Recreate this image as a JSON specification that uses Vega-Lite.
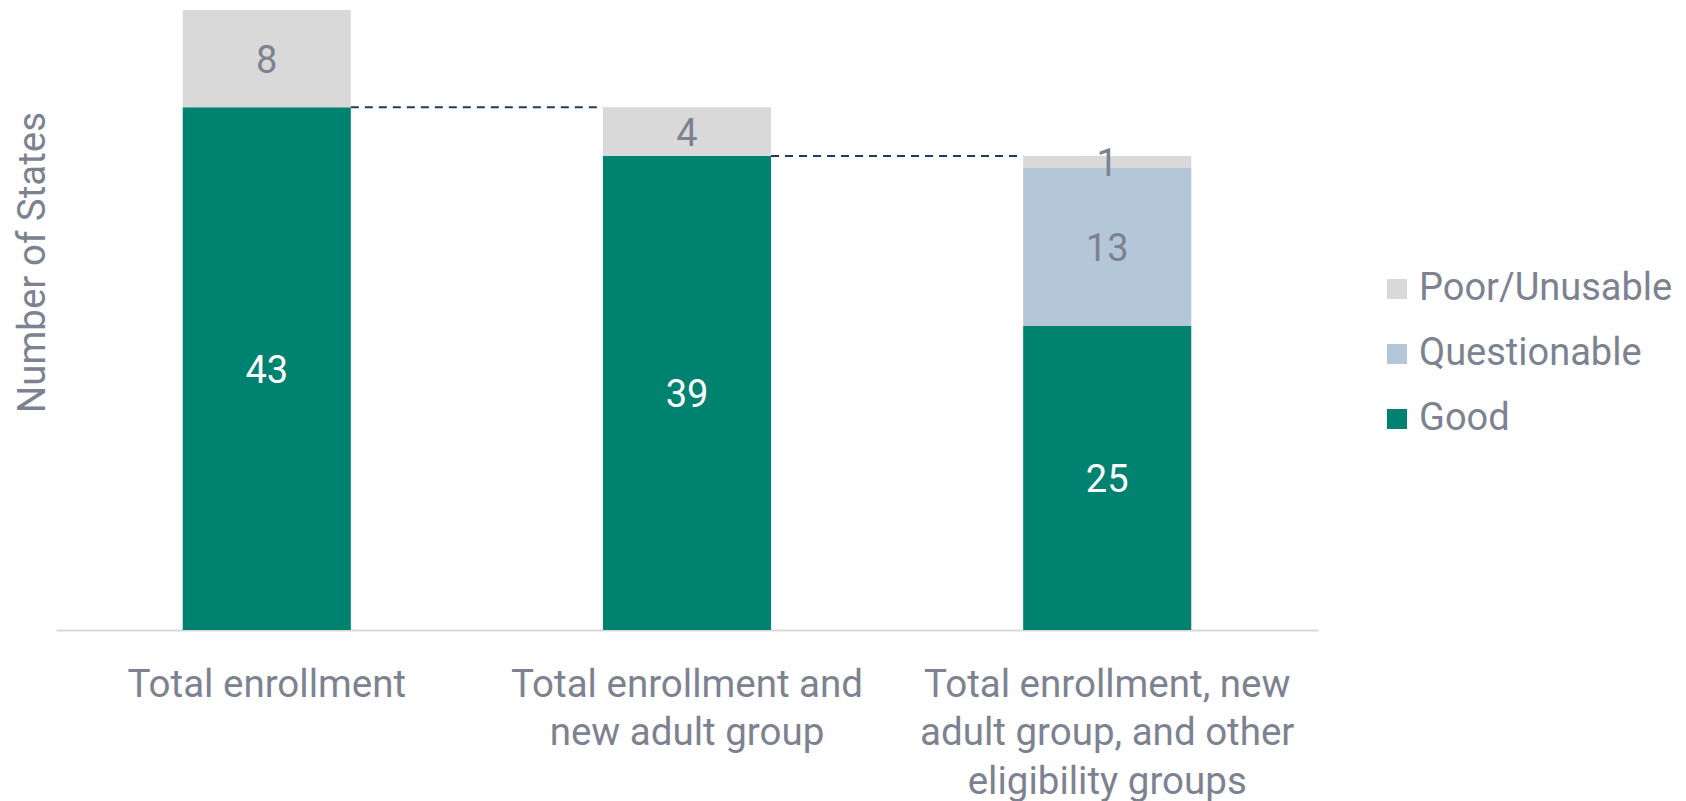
{
  "$schema": "https://vega.github.io/schema/vega-lite/v6.json",
  "autosize": {"type": "none"},
  "width": 1262,
  "height": 620,
  "padding": {"left": 56, "top": 10, "right": 368, "bottom": 171},
  "background": "white",
  "config": {
    "font": "Roboto",
    "view": {"stroke": null}
  },
  "datasets": {
    "bars": [
      {"group": "Total enrollment", "status": "Good", "value": 43, "rank": 1},
      {"group": "Total enrollment", "status": "Poor/Unusable", "value": 8, "rank": 3},
      {"group": "Total enrollment and new adult group", "status": "Good", "value": 39, "rank": 1},
      {"group": "Total enrollment and new adult group", "status": "Poor/Unusable", "value": 4, "rank": 3},
      {"group": "Total enrollment, new adult group, and other eligibility groups", "status": "Good", "value": 25, "rank": 1},
      {"group": "Total enrollment, new adult group, and other eligibility groups", "status": "Questionable", "value": 13, "rank": 2},
      {"group": "Total enrollment, new adult group, and other eligibility groups", "status": "Poor/Unusable", "value": 1, "rank": 3}
    ],
    "links": [
      {"from": "Total enrollment", "to": "Total enrollment and new adult group", "level": 43},
      {"from": "Total enrollment and new adult group", "to": "Total enrollment, new adult group, and other eligibility groups", "level": 39}
    ]
  },
  "layer": [
    {
      "data": {"name": "bars"},
      "mark": {"type": "bar"},
      "encoding": {
        "x": {
          "field": "group", "type": "nominal", "sort": null,
          "scale": {"paddingInner": 0.6, "paddingOuter": 0.3016},
          "axis": {
            "title": null,
            "labelAngle": 0,
            "labelFontSize": 38.5,
            "labelColor": "#7d8291",
            "labelLineHeight": 48.5,
            "labelPadding": 66,
            "labelBaseline": "alphabetic",
            "labelLimit": 0,
            "labelExpr": "datum.value == 'Total enrollment and new adult group' ? ['Total enrollment and', 'new adult group'] : datum.value == 'Total enrollment, new adult group, and other eligibility groups' ? ['Total enrollment, new', 'adult group, and other', 'eligibility groups'] : datum.value",
            "ticks": false,
            "domainColor": "#d9d9d9",
            "domainWidth": 2
          }
        },
        "y": {
          "field": "value", "type": "quantitative", "stack": "zero",
          "scale": {"domain": [0, 51], "nice": false},
          "axis": {
            "title": "Number of States",
            "titleFontSize": 38.5,
            "titleFontWeight": "normal",
            "titleColor": "#7d8291",
            "titleAngle": -90,
            "titleAlign": "center",
            "titleBaseline": "middle",
            "titleX": -24,
            "titleY": 252,
            "labels": false,
            "ticks": false,
            "domain": false,
            "grid": false
          }
        },
        "color": {
          "field": "status", "type": "nominal",
          "scale": {"domain": ["Poor/Unusable", "Questionable", "Good"], "range": ["#d9d9d9", "#b3c7d8", "#008270"]},
          "legend": {
            "title": null,
            "orient": "none",
            "legendX": 1322,
            "legendY": 260,
            "padding": 0,
            "symbolType": "square",
            "symbolSize": 400,
            "symbolStrokeWidth": 0,
            "labelFontSize": 38,
            "labelColor": "#7d8291",
            "labelOffset": 3,
            "rowPadding": 27,
            "labelLimit": 400
          }
        },
        "order": {"field": "rank", "type": "quantitative"}
      }
    },
    {
      "data": {"name": "bars"},
      "mark": {"type": "text", "fontSize": 38, "baseline": "middle", "align": "center", "dy": 3},
      "encoding": {
        "x": {"field": "group", "type": "nominal", "sort": null},
        "y": {"field": "value", "type": "quantitative", "stack": "zero", "bandPosition": 0.5},
        "order": {"field": "rank", "type": "quantitative"},
        "text": {"field": "value", "type": "quantitative"},
        "color": {"condition": {"test": "datum.status == 'Good'", "value": "#ffffff"}, "value": "#7d8291"}
      }
    },
    {
      "data": {"name": "links"},
      "mark": {"type": "rule", "color": "#1f3b63", "strokeWidth": 2, "strokeDash": [8, 6]},
      "encoding": {
        "x": {"field": "from", "type": "nominal", "sort": null, "bandPosition": 1},
        "x2": {"field": "to", "bandPosition": 0},
        "y": {"field": "level", "type": "quantitative"}
      }
    }
  ]
}
